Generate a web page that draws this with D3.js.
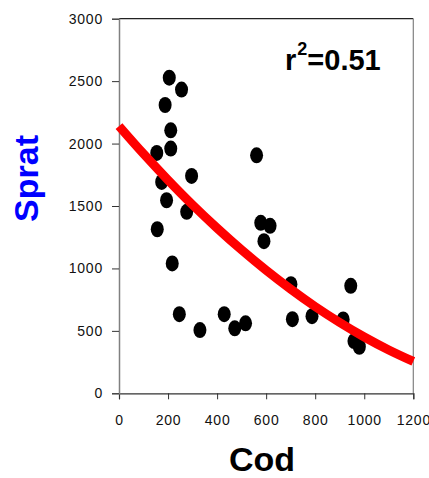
<!DOCTYPE html>
<html>
<head>
<meta charset="utf-8">
<script src="https://cdn.jsdelivr.net/npm/d3@7"></script>
<style>
  html, body { margin: 0; padding: 0; background: #fff; }
  svg { display: block; font-family: "Liberation Sans", Arial, sans-serif; }
</style>
</head>
<body>
<svg id="chart" width="429" height="478"></svg>
<script>
// Data
const codValues = [205, 255, 188, 211, 211, 154, 561, 296, 174, 194, 276, 578, 616, 591, 156, 217,
                   246, 330, 429, 472, 516, 701, 707, 787, 914, 945, 958, 980];
const spratValues = [2528, 2432, 2309, 2106, 1960, 1925, 1906, 1741, 1693, 1546, 1453, 1365, 1341, 1218, 1314, 1040,
                     634, 506, 634, 520, 560, 874, 594, 618, 592, 861, 418, 373];
// Fitted curve, read at every 100 of Cod
const fitCod = [0, 100, 200, 300, 400, 500, 600, 700, 800, 900, 1000, 1100, 1200];
const fitSprat = [2140, 1918, 1708, 1509, 1323, 1148, 985, 834, 694, 567, 451, 347, 255];
const xTicks = [0, 200, 400, 600, 800, 1000, 1200];
const yTicks = [0, 500, 1000, 1500, 2000, 2500, 3000];
const xLabel = "Cod";
const yLabel = "Sprat";

const svg = d3.select("#chart");
const L = 119, R = 413.3, T = 18.7, B = 393.3;
const x = d3.scaleLinear().domain([0, 1200]).range([L, R]);
const y = d3.scaleLinear().domain([0, 3000]).range([B, T]);

// frame: top and right
svg.append("line").attr("x1", L).attr("x2", R).attr("y1", T).attr("y2", T)
  .attr("stroke", "#222").attr("stroke-width", 1.2);
svg.append("line").attr("x1", R).attr("x2", R).attr("y1", T).attr("y2", B)
  .attr("stroke", "#808080").attr("stroke-width", 1.2);

// axes
const xAxis = svg.append("g").attr("transform", `translate(0,${B})`)
  .call(d3.axisBottom(x).tickValues(xTicks).tickSize(6).tickPadding(16).tickFormat(d3.format("d")));
const yAxis = svg.append("g").attr("transform", `translate(${L},0)`)
  .call(d3.axisLeft(y).tickValues(yTicks).tickSize(7).tickPadding(9).tickFormat(d3.format("d")));
xAxis.select(".domain").attr("stroke", "#333").attr("stroke-width", 1.2);
yAxis.select(".domain").attr("stroke", "#808080").attr("stroke-width", 1.5);
[xAxis, yAxis].forEach(g => {
  g.selectAll(".tick line").attr("stroke", "#333").attr("stroke-width", 1);
  g.selectAll(".tick text").attr("font-size", "14px").attr("fill", "#111")
    .attr("font-family", "'Liberation Sans', Arial, sans-serif").attr("letter-spacing", "0.8px");
});

// points
svg.append("g").selectAll("ellipse").data(codValues.map((c, i) => [c, spratValues[i]]))
  .join("ellipse")
  .attr("cx", d => x(d[0])).attr("cy", d => y(d[1]))
  .attr("rx", 6.5).attr("ry", 8).attr("fill", "#000");

// fitted curve
const line = d3.line().x(d => x(d[0])).y(d => y(d[1])).curve(d3.curveMonotoneX);
svg.append("path").datum(fitCod.map((c, i) => [c, fitSprat[i]]))
  .attr("d", line).attr("fill", "none").attr("stroke", "#ff0000").attr("stroke-width", 9);

// r^2 label
const rt = svg.append("text").attr("x", 285).attr("y", 70)
  .attr("font-weight", "bold").attr("font-size", "29px").attr("fill", "#000");
rt.append("tspan").text("r");
rt.append("tspan").attr("font-size", "18px").attr("dy", -15).attr("dx", 1).text("2");
rt.append("tspan").attr("dy", 15).text("=0.51");

// axis titles
svg.append("text").attr("x", 262).attr("y", 471).attr("text-anchor", "middle")
  .attr("font-weight", "bold").attr("font-size", "34px").attr("fill", "#000").text(xLabel);
svg.append("text").attr("transform", "translate(38,178.5) rotate(-90)").attr("text-anchor", "middle")
  .attr("font-weight", "bold").attr("font-size", "34px").attr("fill", "#0000ff").text(yLabel);
</script>
</body>
</html>
